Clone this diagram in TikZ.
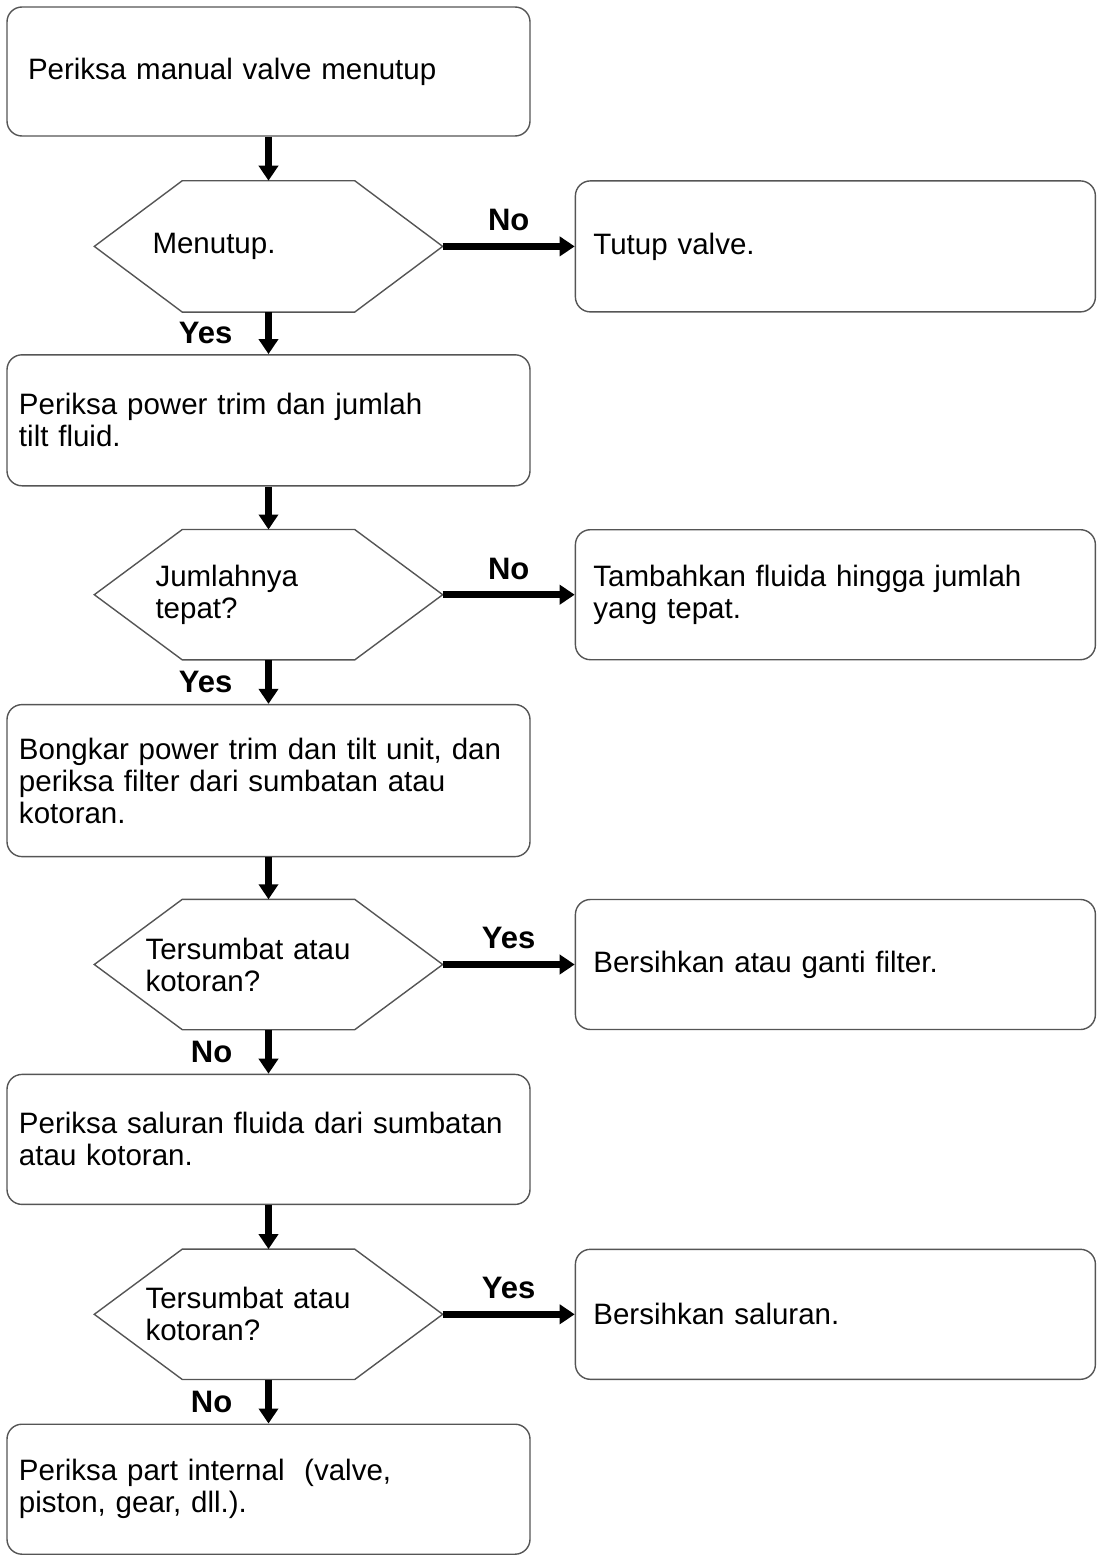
\documentclass[tikz,border=0pt]{standalone}
\usepackage{fontspec}
\setmainfont{Liberation Sans}
\usepackage{tikz}
\usetikzlibrary{arrows.meta, positioning}
\definecolor{boxline}{RGB}{85,85,85}
\definecolor{mydark}{RGB}{0,0,0}
\tikzset{
  stepbox/.style={rectangle, draw=boxline, line width=1.4pt, rounded corners=15pt,
    minimum width=523pt, minimum height=130pt, inner xsep=12pt, text width=499pt,
    align=left, font=\fontsize{29.5}{32}\selectfont},
  sidebox/.style={stepbox, minimum width=520pt, inner xsep=18pt, text width=484pt},
  decision/.style={rectangle, minimum width=348pt, minimum height=130pt,
    align=left, font=\fontsize{29.5}{32}\selectfont},
  hexline/.style={draw=boxline, line width=1.4pt, line join=miter},
  arrow/.style={-{Triangle[length=15pt,width=19pt]}, line width=6.5pt, color=mydark},
  lbl/.style={font=\fontsize{31}{36}\selectfont\bfseries, inner sep=0pt}
}
\begin{document}
\begin{tikzpicture}[x=1pt, y=-1pt]
\useasboundingbox (0,0) rectangle (1096,1563);
% left column
\node[stepbox, minimum height=129pt, inner xsep=21pt, text width=481pt] (b1) at (268.5,71.5) {Periksa manual valve menutup};
\node[decision, minimum height=131pt, inner xsep=58pt, text width=232pt, below=44pt of b1] (h1) {Menutup.};
\node[stepbox, minimum height=131pt, below=42pt of h1] (b2) {Periksa power trim dan jumlah\\tilt fluid.};
\node[decision, inner xsep=61pt, text width=226pt, below=43pt of b2] (h2) {Jumlahnya\\tepat?};
\node[stepbox, minimum height=152pt, below=44pt of h2] (b3) {Bongkar power trim dan tilt unit, dan\\periksa filter dari sumbatan atau\\kotoran.};
\node[decision, inner xsep=51pt, text width=246pt, below=42pt of b3] (h3) {Tersumbat atau\\kotoran?};
\node[stepbox, below=44pt of h3] (b4) {Periksa saluran fluida dari sumbatan\\atau kotoran.};
\node[decision, inner xsep=51pt, text width=246pt, below=44pt of b4] (h4) {Tersumbat atau\\kotoran?};
\node[stepbox, below=44pt of h4] (b5) {Periksa part internal~ (valve,\\piston, gear, dll.).};
% right column
\node[sidebox, minimum height=131pt, right=132pt of h1] (r1) {Tutup valve.};
\node[sidebox, right=132pt of h2] (r2) {Tambahkan fluida hingga jumlah\\yang tepat.};
\node[sidebox, right=132pt of h3] (r3) {Bersihkan atau ganti filter.};
\node[sidebox, right=132pt of h4] (r4) {Bersihkan saluran.};
% hexagons
\foreach \d in {h1,h2,h3,h4}
  \draw[hexline] (\d.west) -- ([xshift=88pt]\d.north west) -- ([xshift=-88pt]\d.north east)
    -- (\d.east) -- ([xshift=-88pt]\d.south east) -- ([xshift=88pt]\d.south west) -- cycle;
% connectors
\draw[arrow] (b1) -- (h1);
\draw[arrow] (h1) -- node[lbl, left=33pt]{Yes} (b2);
\draw[arrow] (b2) -- (h2);
\draw[arrow] (h2) -- node[lbl, left=33pt]{Yes} (b3);
\draw[arrow] (b3) -- (h3);
\draw[arrow] (h3) -- node[lbl, left=33pt]{No} (b4);
\draw[arrow] (b4) -- (h4);
\draw[arrow] (h4) -- node[lbl, left=33pt]{No} (b5);
\draw[arrow] (h1) -- node[lbl, above=12pt]{No} (r1);
\draw[arrow] (h2) -- node[lbl, above=12pt]{No} (r2);
\draw[arrow] (h3) -- node[lbl, above=12pt]{Yes} (r3);
\draw[arrow] (h4) -- node[lbl, above=12pt]{Yes} (r4);
\end{tikzpicture}
\end{document}
